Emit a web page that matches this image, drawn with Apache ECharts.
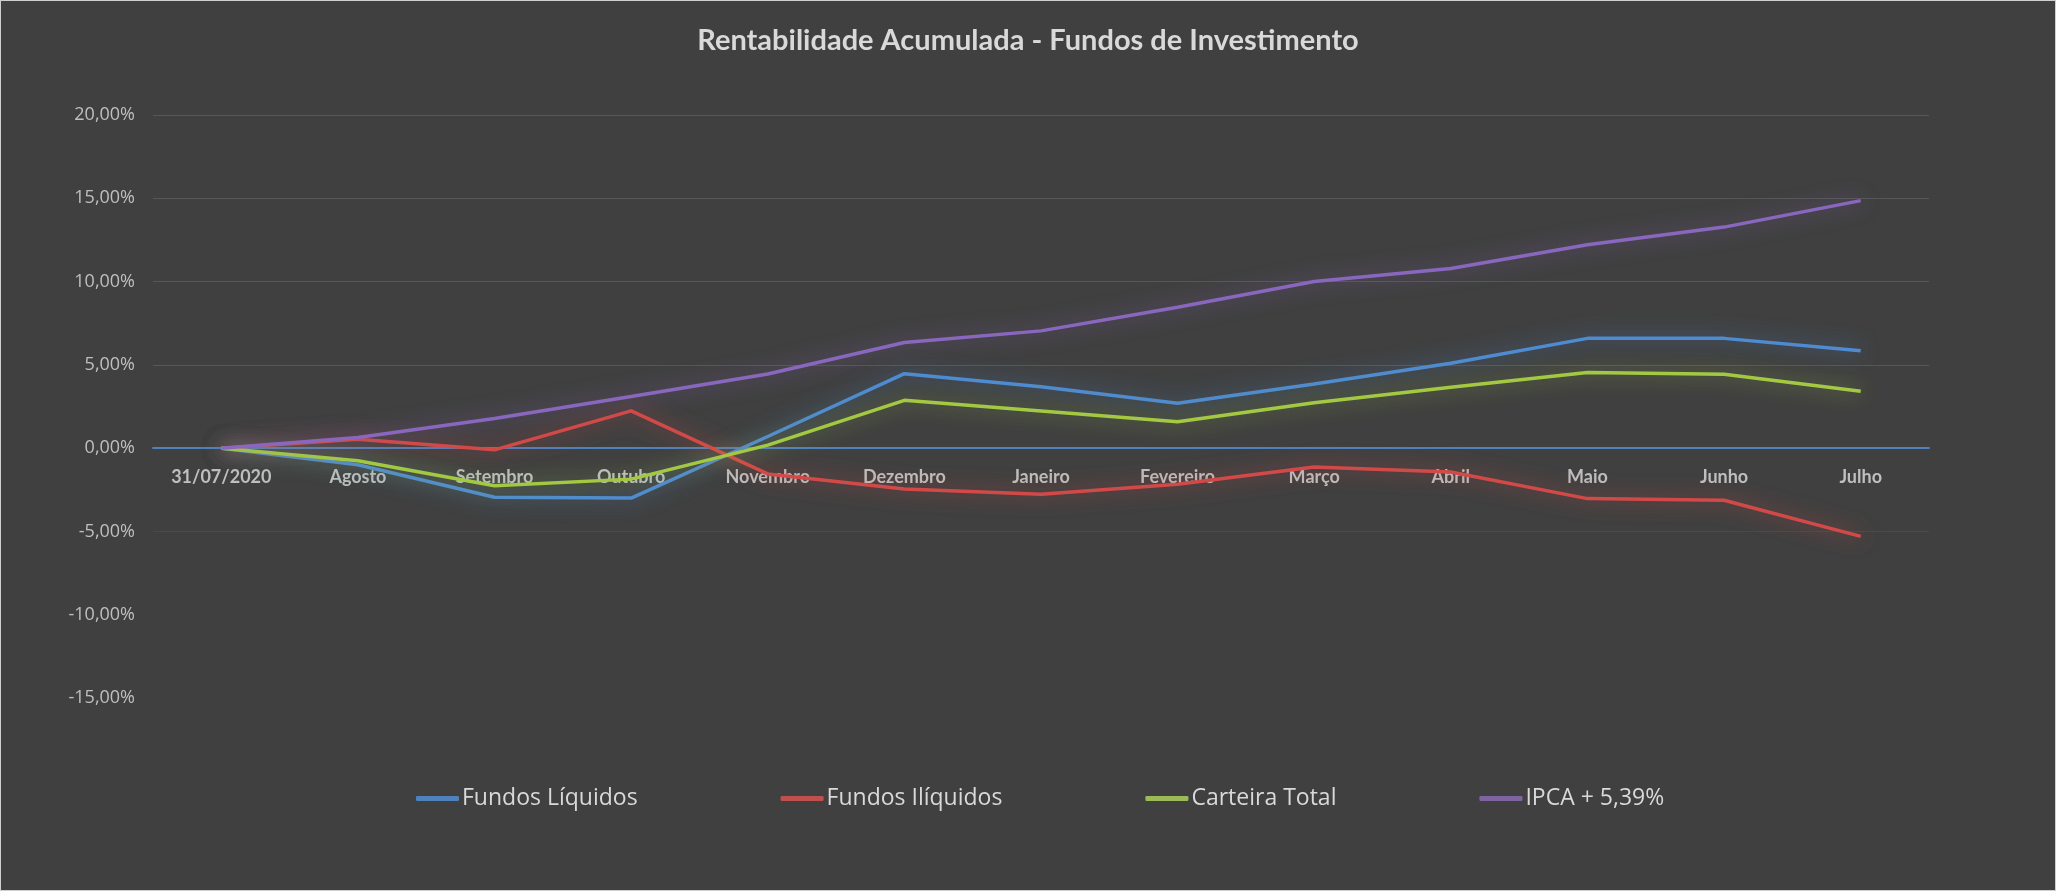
<!DOCTYPE html>
<html>
<head>
<meta charset="utf-8">
<script src="https://cdn.jsdelivr.net/npm/echarts@6/dist/echarts.min.js"></script>
<style>
html,body{margin:0;padding:0;background:#404040;}
#c{width:2054px;height:889px;border:1px solid #cfcfcf;}
</style>
</head>
<body>
<div id="c"></div>
<script>
const categories = ['31/07/2020','Agosto','Setembro','Outubro','Novembro','Dezembro','Janeiro','Fevereiro','Março','Abril','Maio','Junho','Julho'];
const fundosLiquidos = [0, -1.0, -2.95, -3.0, 0.7, 4.47, 3.68, 2.69, 3.85, 5.1, 6.59, 6.59, 5.84];
const fundosIliquidos = [0, 0.54, -0.1, 2.24, -1.55, -2.45, -2.77, -2.17, -1.13, -1.43, -3.03, -3.13, -5.3];
const carteiraTotal = [0, -0.76, -2.26, -1.86, 0.18, 2.87, 2.23, 1.58, 2.73, 3.65, 4.54, 4.44, 3.41];
const ipca = [0, 0.64, 1.78, 3.1, 4.45, 6.34, 7.04, 8.46, 10.0, 10.78, 12.21, 13.27, 14.86];
const seriesNames = ['Fundos Líquidos','Fundos Ilíquidos','Carteira Total','IPCA + 5,39%'];
const lineColors = ['#4f8bd0','#d24a48','#a3c943','#8a67be'];
const legendColors = ['#4f81bd','#c0504d','#9bbb59','#8064a2'];
const glowColors = ['rgba(79,139,208,0.75)','rgba(210,74,72,0.75)','rgba(163,201,67,0.65)','rgba(138,103,190,0.65)'];
const seriesData = [fundosLiquidos, fundosIliquidos, carteiraTotal, ipca];

const chart = echarts.init(document.getElementById('c'));
chart.setOption({
  backgroundColor: '#404040',
  title: {
    text: 'Rentabilidade Acumulada - Fundos de Investimento',
    left: 'center', top: 20,
    textStyle: {color: '#d9d9d9', fontFamily: 'Lato', fontWeight: 'bold', fontSize: 29}
  },
  legend: {
    left: 410, top: 781,
    itemGap: 143, itemWidth: 43, itemHeight: 5,
    icon: 'roundRect',
    textStyle: {color: '#d9d9d9', fontFamily: 'Open Sans', fontSize: 23, padding: [0,0,0,-2]},
    data: seriesNames.map((n,i)=>({name:n, itemStyle:{color:legendColors[i]}}))
  },
  grid: [
    {left: 152, right: 126, top: 114, bottom: 192, containLabel: false},
    {left: 152, right: 126, top: 114, bottom: 443, containLabel: false}
  ],
  xAxis: [{
    type: 'category', data: categories, boundaryGap: true, gridIndex: 0,
    axisLine: {onZero: true, lineStyle: {color: '#4f81bd', width: 2}},
    axisTick: {show: false},
    axisLabel: {show: false},
    splitLine: {show: false}
  }, {
    type: 'category', data: categories, boundaryGap: true, gridIndex: 1, position: 'bottom',
    axisLine: {show: false},
    axisTick: {show: false},
    axisLabel: {color: '#bfbfbf', fontFamily: 'Lato', fontWeight: 'bold', fontSize: 18, margin: 21},
    splitLine: {show: false}
  }],
  yAxis: [{
    type: 'value', min: -15, max: 20, interval: 5, gridIndex: 0,
    axisLine: {show: false}, axisTick: {show: false},
    axisLabel: {color: '#bfbfbf', fontFamily: 'Open Sans', fontSize: 18, margin: 18,
      formatter: v => v.toFixed(2).replace('.', ',') + '%'},
    splitLine: {lineStyle: {color: ['rgba(0,0,0,0)','rgba(0,0,0,0)','#4a4a4a','#575757','#575757','#575757','#575757','#575757'], width: 1}}
  }, {
    type: 'value', min: 0, max: 20, interval: 5, gridIndex: 1, show: false
  }],
  series: seriesData.map((d,i)=>({
    name: seriesNames[i], type: 'line', data: d, symbol: 'none',
    xAxisIndex: 0, yAxisIndex: 0,
    color: legendColors[i],
    lineStyle: {color: lineColors[i], width: 3.5, shadowBlur: 20, shadowColor: glowColors[i]},
    z: 3
  }))
});
</script>
</body>
</html>
